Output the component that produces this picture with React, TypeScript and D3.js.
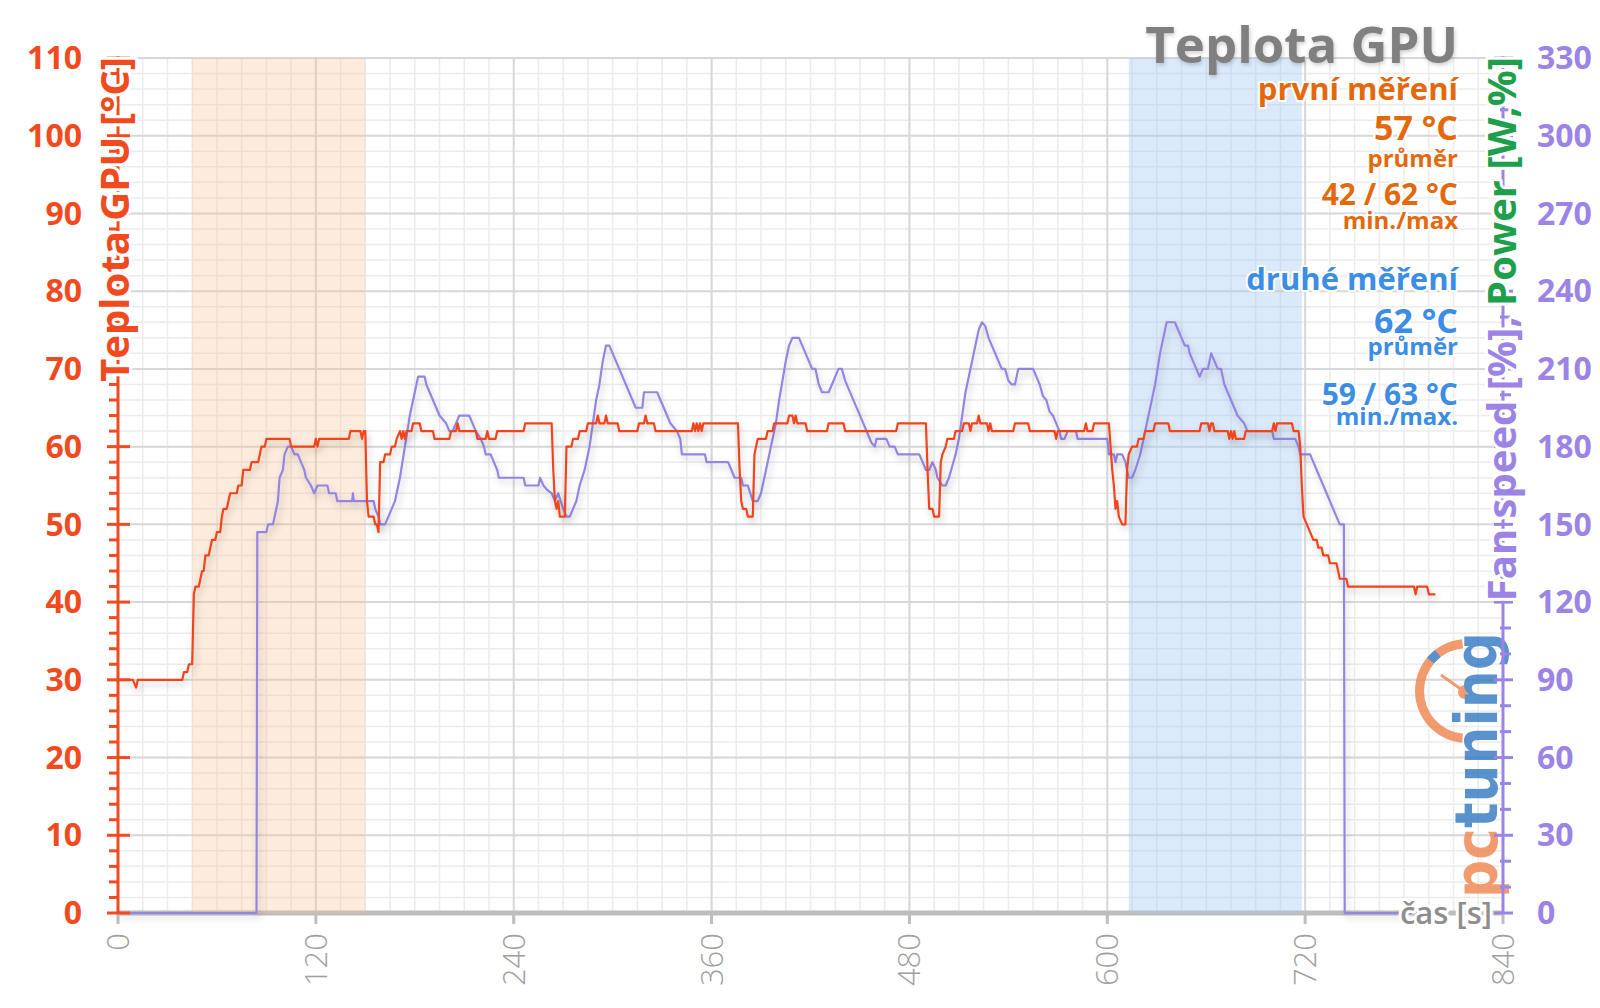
import React from 'react';
import * as d3 from 'd3';

// ---------- data ----------
const xTicks = [0, 120, 240, 360, 480, 600, 720, 840];
const leftTicks = [0, 10, 20, 30, 40, 50, 60, 70, 80, 90, 100, 110];
const rightTicks = [0, 30, 60, 90, 120, 150, 180, 210, 240, 270, 300, 330];
const firstRun: [number, number] = [45, 150];
const secondRun: [number, number] = [613, 718];

const titleText = 'Teplota GPU';
const firstStats = ['první měření', '57 °C', 'průměr', '42 / 62 °C', 'min./max'];
const secondStats = ['druhé měření', '62 °C', 'průměr', '59 / 63 °C', 'min./max.'];
const leftLabel = 'Teplota GPU [°C]';
const rightLabelA = 'Fan speed [%], ';
const rightLabelB = 'Power [W,%]';
const xLabel = 'čas [s]';

// GPU temperature [°C] (time s, value)
const tempSeries: [number, number][] = [
  [0, 30], [9, 30], [11, 29], [12, 30], [39, 30], [40, 31], [42, 31], [43, 32], [45, 32], [46, 41], [47, 42], [49, 42],
  [50, 43], [51, 44], [52, 44], [53, 46], [55, 46], [56, 47], [57, 48], [59, 48], [60, 49], [62, 49], [63, 51], [64, 52],
  [66, 52], [67, 53], [68, 54], [72, 54], [73, 55], [75, 55], [76, 57], [80, 57], [81, 58], [85, 58], [86, 59], [87, 60],
  [89, 60], [90, 61], [104, 61], [105, 60], [119, 60], [120, 61], [121, 60], [122, 61], [140, 61], [141, 62], [147, 62],
  [148, 61], [149, 62], [150, 62], [151, 53], [152, 51], [155, 51], [156, 50], [157, 50], [158, 49], [159, 58], [161, 58],
  [162, 59], [165, 59], [166, 60], [168, 60], [169, 61], [171, 62], [172, 61], [173, 62], [174, 61], [175, 62], [178, 62],
  [179, 63], [183, 63], [184, 62], [191, 62], [192, 61], [201, 61], [202, 62], [205, 62], [206, 63], [207, 62], [217, 62],
  [218, 61], [223, 61], [224, 62], [225, 61], [229, 61], [230, 62], [246, 62], [247, 63], [263, 63], [264, 57], [265, 53],
  [266, 52], [267, 53], [268, 51], [271, 51], [272, 60], [275, 60], [276, 61], [279, 61], [280, 62], [284, 62], [285, 63],
  [290, 63], [291, 64], [292, 63], [295, 63], [296, 64], [297, 63], [303, 63], [304, 62], [315, 62], [316, 63], [319, 63],
  [320, 64], [321, 63], [325, 63], [326, 62], [348, 62], [349, 63], [350, 62], [351, 63], [352, 62], [353, 63], [354, 62],
  [355, 63], [376, 63], [377, 57], [378, 53], [379, 52], [381, 52], [382, 51], [385, 51], [386, 59], [387, 60], [388, 61],
  [393, 61], [394, 62], [397, 62], [398, 63], [406, 63], [407, 64], [409, 64], [410, 63], [411, 64], [412, 63], [417, 63],
  [418, 62], [430, 62], [431, 63], [440, 63], [441, 62], [472, 62], [473, 63], [490, 63], [491, 57], [492, 52], [494, 52],
  [495, 51], [498, 51], [499, 58], [500, 59], [502, 60], [503, 61], [507, 61], [508, 62], [512, 62], [513, 63], [516, 63],
  [517, 62], [518, 63], [521, 63], [522, 64], [523, 63], [527, 63], [528, 62], [529, 63], [530, 62], [531, 62], [543, 62],
  [544, 63], [552, 63], [553, 62], [568, 62], [569, 61], [570, 62], [586, 62], [587, 63], [588, 62], [591, 62], [592, 63],
  [601, 63], [602, 60], [603, 57], [604, 55], [605, 52], [606, 53], [607, 51], [609, 50], [611, 50], [612, 57], [613, 59],
  [615, 60], [618, 60], [619, 61], [622, 61], [623, 62], [628, 62], [629, 63], [637, 63], [638, 62], [656, 62], [657, 63],
  [661, 63], [662, 62], [663, 63], [664, 63], [665, 62], [673, 62], [674, 61], [675, 62], [676, 61], [677, 62], [678, 61],
  [683, 61], [684, 62], [700, 62], [701, 63], [702, 62], [703, 63], [712, 63], [713, 62], [716, 62], [717, 60], [718, 55],
  [719, 51], [721, 50], [723, 49], [725, 48], [727, 48], [728, 47], [730, 47], [731, 46], [734, 46], [735, 45], [739, 45],
  [740, 44], [741, 43], [745, 43], [746, 42], [786, 42], [787, 41], [788, 42], [794, 42], [795, 41], [799, 41],
];

// Fan speed [%] (time s, value)
const fanSeries: [number, number][] = [
  [0, 0], [84, 0], [84.5, 49], [90, 49], [91, 50], [94, 50], [95, 51], [97, 53], [98, 56], [100, 57], [101, 59], [103, 60],
  [105, 60], [107, 59], [109, 59], [111, 58], [113, 57], [114, 56], [117, 55], [119, 54], [121, 55], [127, 55], [128, 54],
  [132, 54], [133, 53], [142, 53], [142.5, 54], [143, 53], [155, 53], [156, 52], [158, 51], [159, 50], [162, 50], [164, 51],
  [166, 52], [168, 53], [170, 55], [171, 56], [177, 64], [179, 66], [182, 69], [186, 69], [187, 68], [189, 67], [191, 66],
  [193, 65], [195, 64], [199, 63], [201, 62], [203, 62], [205, 63], [207, 64], [213, 64], [215, 63], [217, 62], [220, 61],
  [222, 60], [223, 59], [226, 59], [228, 58], [230, 57], [231, 56], [246, 56], [247, 55], [255, 55], [256, 56], [258, 55],
  [260, 54.5], [263, 54], [265, 53], [267, 54], [270, 52], [272, 51], [274, 51], [276, 52], [278, 53], [280, 55], [283, 57],
  [286, 60], [288, 63], [290, 66], [292, 68], [294, 71], [296, 73], [298, 73], [300, 72], [302, 71], [304, 70], [306, 69],
  [308, 68], [310, 67], [312, 66], [314, 65], [318, 65], [319, 67], [327, 67], [329, 66], [331, 65], [333, 64], [335, 63],
  [337, 62.5], [339, 62], [341, 61], [342, 59], [356, 59], [357, 58], [370, 58], [372, 57], [374, 56], [378, 56], [379, 55],
  [382, 55], [385, 53], [388, 53], [390, 54], [392, 56], [394, 58], [396, 60], [399, 63], [401, 66], [403, 68.5], [405, 71],
  [407, 73], [409, 74], [413, 74], [415, 73], [417, 72], [419, 71], [421, 70], [423, 70], [425, 68], [427, 67], [431, 67],
  [433, 68], [435, 69], [437, 70], [439, 70], [441, 68.5], [443, 67.5], [445, 66.5], [447, 65.5], [449, 64.5], [451, 63.5],
  [453, 62.5], [455, 61.5], [457, 60.5], [459, 60], [460, 61], [466, 61], [468, 60], [471, 60], [473, 59], [486, 59],
  [488, 58], [490, 57], [492, 57], [494, 58], [496, 57], [497, 56], [500, 55], [502, 55], [504, 56], [506, 57.5], [508, 59],
  [510, 61], [512, 64], [514, 67], [517, 70], [520, 73], [522, 75], [524, 76], [526, 75.5], [528, 74], [530, 73], [532, 72],
  [534, 71], [536, 70], [538, 70], [540, 68.5], [542, 68], [544, 68], [546, 70], [555, 70], [557, 69], [559, 68], [561, 66.5],
  [563, 66], [565, 64.5], [567, 64], [569, 63], [571, 62], [572, 61], [574, 61], [576, 62], [581, 62], [582, 61], [600, 61],
  [601, 59], [604, 59], [605, 58], [606, 59], [609, 59], [611, 58], [613, 56], [615, 56], [617, 57], [620, 59], [623, 62],
  [626, 65], [629, 68], [632, 72], [635, 75], [636, 76], [641, 76], [643, 75], [645, 74], [647, 73], [649, 73], [650, 72],
  [652, 71], [654, 70], [656, 69], [658, 70], [661, 70], [663, 72], [665, 71], [667, 70], [669, 70], [671, 68], [673, 67],
  [675, 66], [677, 65], [679, 64], [681, 63.5], [683, 63], [685, 62], [700, 62], [701, 61], [714, 61], [716, 60], [717, 59],
  [723, 59], [725, 58], [727, 57], [729, 56], [731, 55], [733, 54], [735, 53], [737, 52], [739, 51], [741, 50], [743.5, 50],
  [744, 0], [799, 0],
];

// ---------- chart ----------
const W = 1600;
const H = 1008;
const PL = 118, PR = 1503, PT = 58, PB = 913;

const RED = '#f0441c';
const AXRED = '#f24a1f';
const PURPLE = '#9585e3';
const AXPURPLE = '#9b84e6';
const GREEN = '#1e9f4c';
const ORANGE_T = '#e4680c';
const BLUE_T = '#3b8de6';
const FONT = '"Open Sans", "DejaVu Sans", sans-serif';

export default function App() {
  const x = d3.scaleLinear().domain([0, 840]).range([PL, PR]);
  const yL = d3.scaleLinear().domain([0, 110]).range([PB, PT]);
  const yR = d3.scaleLinear().domain([0, 330]).range([PB, PT]);

  const line = d3.line<[number, number]>().x((d) => x(d[0])).y((d) => yL(d[1]));

  const minorY = d3.range(0, 111, 2);
  const minorX = d3.range(0, 841, 15);
  const leftMinor = d3.range(0, 111, 2).filter((v) => v % 10 !== 0);
  const rightMinor = d3.range(0, 331, 10).filter((v) => v % 30 !== 0);

  const arc = d3.arc();
  const gaugeArc = arc({ innerRadius: 43, outerRadius: 52, startAngle: Math.PI * 1.03, endAngle: Math.PI * 1.97 } as any) || '';
  const gaugeMark = arc({ innerRadius: 43, outerRadius: 52, startAngle: Math.PI * 1.72, endAngle: Math.PI * 1.79 } as any) || '';

  const halo = { stroke: '#fff', strokeWidth: 6, paintOrder: 'stroke' as const, strokeLinejoin: 'round' as const };

  const statY1 = [100, 140, 167, 205, 229];
  const statY2 = [290, 333, 355, 405, 425];
  const statSize = [31, 34, 24, 30, 24];

  return (
    <svg width={W} height={H} style={{ position: 'absolute', left: 0, top: 0, background: '#fff' }} fontFamily={FONT}>
      <defs>
        <filter id="shadow" x="-5%" y="-5%" width="110%" height="120%">
          <feDropShadow dx="2" dy="4" stdDeviation="3.5" floodColor="#000" floodOpacity="0.22" />
        </filter>
        <filter id="tshadow" x="-5%" y="-20%" width="110%" height="150%">
          <feDropShadow dx="1" dy="2" stdDeviation="2" floodColor="#000" floodOpacity="0.2" />
        </filter>
      </defs>
      <rect x={0} y={0} width={W} height={H} fill="#fff" />

      {/* minor grid */}
      {minorY.map((v) => (
        <line key={'my' + v} x1={PL} x2={PR} y1={yL(v)} y2={yL(v)} stroke="#ececec" strokeWidth={1.5} />
      ))}
      {minorX.map((v) => (
        <line key={'mx' + v} x1={x(v)} x2={x(v)} y1={PT} y2={PB} stroke="#ececec" strokeWidth={1.5} />
      ))}
      {/* major grid */}
      {leftTicks.map((v) => (
        <line key={'gy' + v} x1={PL} x2={PR} y1={yL(v)} y2={yL(v)} stroke="#d8d8d8" strokeWidth={2} />
      ))}
      {xTicks.map((v) => (
        <line key={'gx' + v} x1={x(v)} x2={x(v)} y1={PT} y2={PB} stroke="#d8d8d8" strokeWidth={2} />
      ))}

      {/* x axis */}
      <line x1={PL} x2={PR} y1={PB} y2={PB} stroke="#bdbdbd" strokeWidth={5} />
      {xTicks.map((v) => (
        <line key={'xt' + v} x1={x(v)} x2={x(v)} y1={PB} y2={PB + 11} stroke="#bdbdbd" strokeWidth={3} />
      ))}
      {xTicks.map((v) => (
        <text key={'xl' + v} transform={`translate(${x(v) + 11},${PB + 20}) rotate(-90)`} textAnchor="end"
          fontSize={31} fill="#a0a0a0" fontWeight={300}>{v}</text>
      ))}

      {/* bands */}
      <rect x={x(firstRun[0])} y={PT} width={x(firstRun[1]) - x(firstRun[0])} height={PB - PT} fill="#f9bf8f" opacity={0.3} />
      <rect x={x(secondRun[0])} y={PT} width={x(secondRun[1]) - x(secondRun[0])} height={PB - PT} fill="#a6cbf5" opacity={0.4} />

      {/* series */}
      <path d={line(fanSeries) || ''} fill="none" stroke={PURPLE} strokeWidth={2.2} strokeLinejoin="round" filter="url(#shadow)" />
      <path d={line(tempSeries) || ''} fill="none" stroke={RED} strokeWidth={2.2} strokeLinejoin="round" filter="url(#shadow)" />

      {/* logo */}
      <g opacity={0.85}>
        <path d={gaugeArc} transform="translate(1467,691)" fill="#f08a55" />
        <path d={gaugeMark} transform="translate(1467,691)" fill="#3d7fc4" />
        <line x1={1465} y1={692} x2={1441} y2={675} stroke="#f08a55" strokeWidth={3} />
        <circle cx={1465} cy={692} r={7} fill="#f08a55" />
        <text transform="translate(1497,898) rotate(-90)" fontSize={58} fontWeight={700} textLength={266}
          lengthAdjust="spacingAndGlyphs" fontFamily='"DejaVu Sans", sans-serif'>
          <tspan fill="#f08a55">pc</tspan><tspan fill="#3d7fc4">tuning</tspan>
        </text>
      </g>

      {/* left axis */}
      <line x1={PL} x2={PL} y1={PB} y2={PT - 2} stroke={AXRED} strokeWidth={3} />
      {leftMinor.map((v) => (
        <line key={'lm' + v} x1={PL - 9} x2={PL} y1={yL(v)} y2={yL(v)} stroke={AXRED} strokeWidth={3} />
      ))}
      {leftTicks.map((v) => (
        <line key={'lt' + v} x1={PL - 11} x2={PL + 12} y1={yL(v)} y2={yL(v)} stroke={AXRED} strokeWidth={3} />
      ))}
      {leftTicks.map((v) => (
        <text key={'ll' + v} x={82} y={yL(v)} dy="0.35em" textAnchor="end" fontSize={32} fontWeight={700} fill={AXRED}>{v}</text>
      ))}
      <text transform={`translate(129,${PT - 1}) rotate(-90)`} textAnchor="end" fontSize={40} fontWeight={700}
        fill={AXRED} {...halo}>{leftLabel}</text>

      {/* right axis */}
      <line x1={PR} x2={PR} y1={PB} y2={PT - 2} stroke={AXPURPLE} strokeWidth={3} />
      {rightMinor.map((v) => (
        <line key={'rm' + v} x1={PR - 3} x2={PR + 8} y1={yR(v)} y2={yR(v)} stroke={AXPURPLE} strokeWidth={3} />
      ))}
      {rightTicks.map((v) => (
        <line key={'rt' + v} x1={PR - 9} x2={PR + 10} y1={yR(v)} y2={yR(v)} stroke={AXPURPLE} strokeWidth={3} />
      ))}
      {rightTicks.map((v) => (
        <text key={'rl' + v} x={1537} y={yR(v)} dy="0.35em" textAnchor="start" fontSize={32} fontWeight={700} fill={AXPURPLE}>{v}</text>
      ))}
      <text transform={`translate(1516,${PT - 1}) rotate(-90)`} textAnchor="end" fontSize={40} fontWeight={700} {...halo}>
        <tspan fill={AXPURPLE}>{rightLabelA}</tspan><tspan fill={GREEN}>{rightLabelB}</tspan>
      </text>

      {/* x label */}
      <text x={1492} y={PB + 11} textAnchor="end" fontSize={31} fontWeight={600} fill="#8e8e8e" {...halo}>{xLabel}</text>

      {/* title + stats */}
      <text x={1458} y={63} textAnchor="end" fontSize={51} fontWeight={700} fill="#808080" filter="url(#tshadow)">{titleText}</text>
      {firstStats.map((s, i) => (
        <text key={'f' + i} x={1458} y={statY1[i]} textAnchor="end" fontSize={statSize[i]} fontWeight={700} fill={ORANGE_T} {...halo} strokeWidth={4}>{s}</text>
      ))}
      {secondStats.map((s, i) => (
        <text key={'s' + i} x={1458} y={statY2[i]} textAnchor="end" fontSize={statSize[i]} fontWeight={700} fill={BLUE_T} {...halo} strokeWidth={4}>{s}</text>
      ))}
    </svg>
  );
}
